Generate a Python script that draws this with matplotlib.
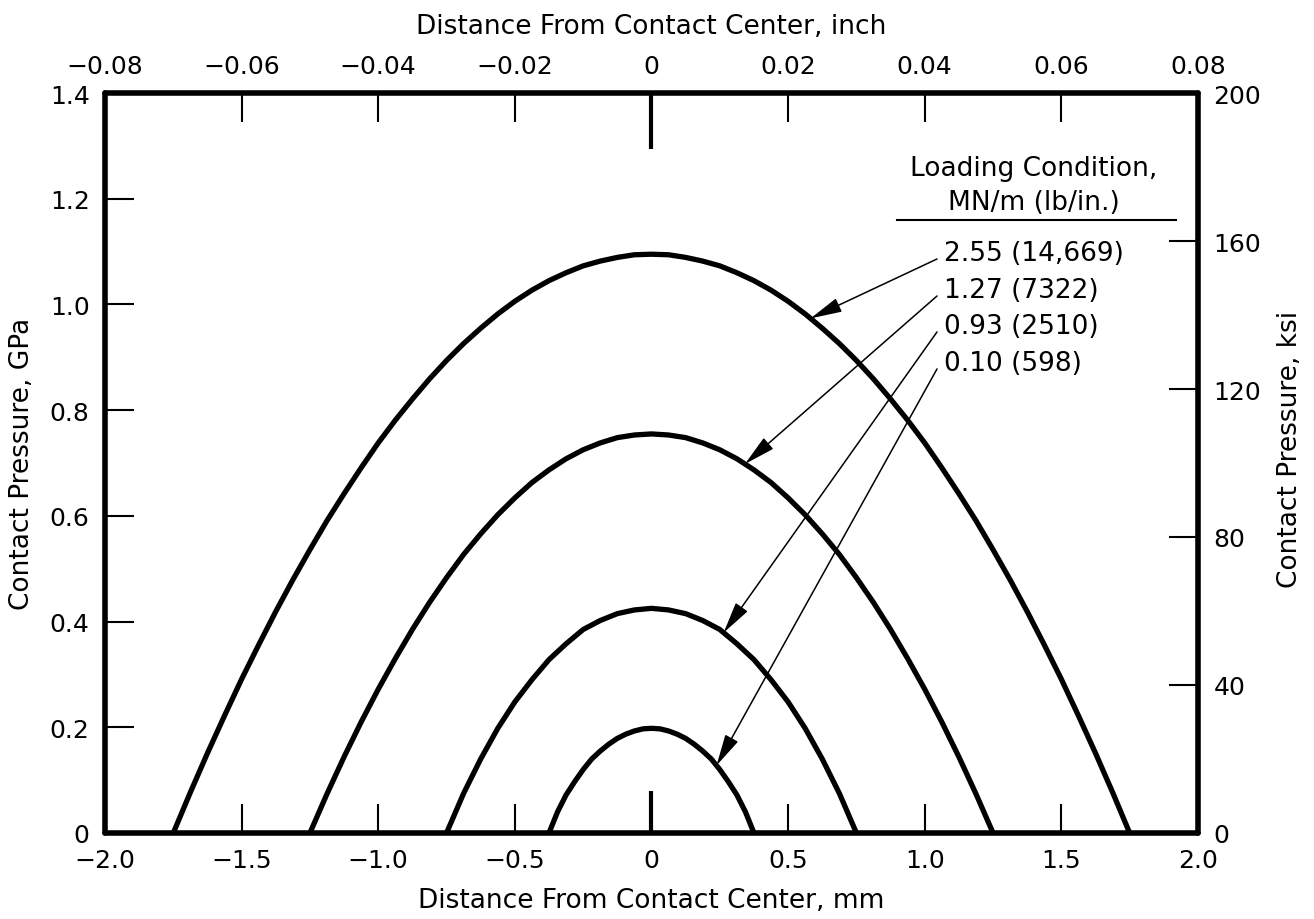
import numpy as np
import matplotlib
matplotlib.use('Agg')
import matplotlib.pyplot as plt

plt.rcParams['font.family'] = ['DejaVu Sans']

# curves: distance (mm) vs contact pressure (GPa)
x_255 = [-1.75, -1.6875, -1.625, -1.5625, -1.5, -1.4375, -1.375, -1.3125, -1.25, -1.1875, -1.125, -1.0625,
         -1.0, -0.9375, -0.875, -0.8125, -0.75, -0.6875, -0.625, -0.5625, -0.5, -0.4375, -0.375, -0.3125,
         -0.25, -0.1875, -0.125, -0.0625, 0.0,
         0.0625, 0.125, 0.1875, 0.25, 0.3125, 0.375, 0.4375, 0.5, 0.5625, 0.625, 0.6875, 0.75, 0.8125,
         0.875, 0.9375, 1.0, 1.0625, 1.125, 1.1875, 1.25, 1.3125, 1.375, 1.4375, 1.5, 1.5625, 1.625, 1.6875, 1.75]
p_255 = [0.0, 0.077, 0.151, 0.222, 0.291, 0.356, 0.419, 0.479, 0.536, 0.591, 0.642, 0.691,
         0.738, 0.781, 0.821, 0.859, 0.894, 0.926, 0.955, 0.982, 1.006, 1.027, 1.045, 1.060,
         1.073, 1.082, 1.089, 1.094, 1.095,
         1.094, 1.089, 1.082, 1.073, 1.060, 1.045, 1.027, 1.006, 0.982, 0.955, 0.926, 0.894, 0.859,
         0.821, 0.781, 0.738, 0.691, 0.642, 0.591, 0.536, 0.479, 0.419, 0.356, 0.291, 0.222, 0.151, 0.077, 0.0]

x_127 = [-1.25, -1.1875, -1.125, -1.0625, -1.0, -0.9375, -0.875, -0.8125, -0.75, -0.6875, -0.625, -0.5625,
         -0.5, -0.4375, -0.375, -0.3125, -0.25, -0.1875, -0.125, -0.0625, 0.0,
         0.0625, 0.125, 0.1875, 0.25, 0.3125, 0.375, 0.4375, 0.5, 0.5625, 0.625, 0.6875,
         0.75, 0.8125, 0.875, 0.9375, 1.0, 1.0625, 1.125, 1.1875, 1.25]
p_127 = [0.0, 0.074, 0.144, 0.210, 0.272, 0.330, 0.385, 0.436, 0.483, 0.527, 0.566, 0.602,
         0.634, 0.663, 0.687, 0.708, 0.725, 0.738, 0.748, 0.753, 0.755,
         0.753, 0.748, 0.738, 0.725, 0.708, 0.687, 0.663, 0.634, 0.602, 0.566, 0.527,
         0.483, 0.436, 0.385, 0.330, 0.272, 0.210, 0.144, 0.074, 0.0]

x_093 = [-0.75, -0.6875, -0.625, -0.5625, -0.5, -0.4375, -0.375, -0.3125, -0.25, -0.1875, -0.125, -0.0625, 0.0,
         0.0625, 0.125, 0.1875, 0.25, 0.3125, 0.375, 0.4375, 0.5, 0.5625, 0.625, 0.6875, 0.75]
p_093 = [0.0, 0.075, 0.140, 0.198, 0.248, 0.290, 0.328, 0.358, 0.385, 0.402, 0.415, 0.422, 0.425,
         0.422, 0.415, 0.402, 0.385, 0.358, 0.328, 0.290, 0.248, 0.198, 0.140, 0.075, 0.0]

x_010 = [-0.375, -0.34375, -0.3125, -0.28125, -0.25, -0.21875, -0.1875, -0.15625, -0.125, -0.09375, -0.0625,
         -0.03125, 0.0, 0.03125, 0.0625, 0.09375, 0.125, 0.15625, 0.1875, 0.21875, 0.25, 0.28125, 0.3125,
         0.34375, 0.375]
p_010 = [0.0, 0.040, 0.072, 0.097, 0.120, 0.140, 0.155, 0.168, 0.179, 0.187, 0.193, 0.197, 0.198,
         0.197, 0.193, 0.187, 0.179, 0.168, 0.155, 0.140, 0.120, 0.097, 0.072, 0.040, 0.0]

labels = ['2.55 (14,669)', '1.27 (7322)', '0.93 (2510)', '0.10 (598)']
arrow_tip_x = [0.582, 0.342, 0.264, 0.238]

mm_ticks = [-2.0, -1.5, -1.0, -0.5, 0.0, 0.5, 1.0, 1.5, 2.0]
mm_labels = ['\u22122.0', '\u22121.5', '\u22121.0', '\u22120.5', '0', '0.5', '1.0', '1.5', '2.0']
inch_ticks = [-0.08, -0.06, -0.04, -0.02, 0.0, 0.02, 0.04, 0.06, 0.08]
inch_labels = ['\u22120.08', '\u22120.06', '\u22120.04', '\u22120.02', '0', '0.02', '0.04', '0.06', '0.08']
gpa_ticks = [0, 0.2, 0.4, 0.6, 0.8, 1.0, 1.2, 1.4]
gpa_labels = ['0', '0.2', '0.4', '0.6', '0.8', '1.0', '1.2', '1.4']
ksi_ticks = [0, 40, 80, 120, 160, 200]

fs = 18

fig = plt.figure(figsize=(13.14, 9.2), dpi=100)
ax = fig.add_axes([0.0799, 0.0935, 0.8318, 0.8043])

curves = [(x_255, p_255), (x_127, p_127), (x_093, p_093), (x_010, p_010)]
for xs, ps in curves:
    ax.plot(xs, ps, color='black', lw=3.8, solid_capstyle='butt',
            solid_joinstyle='round', zorder=3)

ax.set_xlim(-2.0, 2.0)
ax.set_ylim(0, 1.4)
ax.set_xticks(mm_ticks)
ax.set_xticklabels(mm_labels)
ax.set_yticks(gpa_ticks)
ax.set_yticklabels(gpa_labels)
ax.tick_params(direction='in', length=21, width=1.5, labelsize=fs, pad=11,
               top=False, right=False)
for sp in ax.spines.values():
    sp.set_linewidth(4)
    sp.set_capstyle('round')
    sp.set_joinstyle('round')

# thick centre tick
c = ax.xaxis.get_major_ticks()[4]
c.tick1line.set_markersize(30)
c.tick1line.set_markeredgewidth(3)

ax.set_xlabel('Distance From Contact Center, mm', fontsize=fs + 1)
ax.xaxis.set_label_coords(0.5, -0.073)
ax.set_ylabel('Contact Pressure, GPa', fontsize=fs + 1)
ax.yaxis.set_label_coords(-0.064, 0.5)

# right axis, ksi
ax2 = ax.twinx()
ax2.set_ylim(0, 200)
ax2.set_yticks(ksi_ticks)
ax2.tick_params(direction='in', length=21, width=1.5, labelsize=fs, pad=11)
ax2.set_ylabel('Contact Pressure, ksi', fontsize=fs + 1, rotation=90)
ax2.yaxis.set_label_coords(1.072, 0.52)
for sp in ax2.spines.values():
    sp.set_visible(False)

# top axis, inch
ax3 = ax.twiny()
ax3.set_xlim(-0.08, 0.08)
ax3.set_xticks(inch_ticks)
ax3.set_xticklabels(inch_labels)
ax3.tick_params(direction='in', length=21, width=1.5, labelsize=fs, pad=11)
t = ax3.xaxis.get_major_ticks()[4]
t.tick2line.set_markersize(40)
t.tick2line.set_markeredgewidth(3)
ax3.set_xlabel('Distance From Contact Center, inch', fontsize=fs + 1)
ax3.xaxis.set_label_coords(0.5, 1.081)
for sp in ax3.spines.values():
    sp.set_visible(False)

# legend block with arrows
ax.text(1.40, 1.258, 'Loading Condition,', fontsize=fs + 1, ha='center', va='center')
ax.text(1.40, 1.193, 'MN/m (lb/in.)', fontsize=fs + 1, ha='center', va='center')
ax.plot([0.90, 1.92], [1.159, 1.159], color='black', lw=1.5)

row_y = [1.098, 1.028, 0.960, 0.890]
for i, (lab, tx) in enumerate(zip(labels, arrow_tip_x)):
    xs, ps = curves[i]
    ty = np.interp(tx, xs, ps)
    ax.text(1.072, row_y[i], lab, fontsize=fs + 1, ha='left', va='center')
    ax.annotate('', xy=(tx, ty), xytext=(1.045, row_y[i] - 0.012),
                arrowprops=dict(arrowstyle='-|>,head_length=1.3,head_width=0.3',
                                mutation_scale=15, lw=1.1, color='black',
                                shrinkA=0, shrinkB=0), zorder=4)

fig.savefig('out.png', dpi=100)
